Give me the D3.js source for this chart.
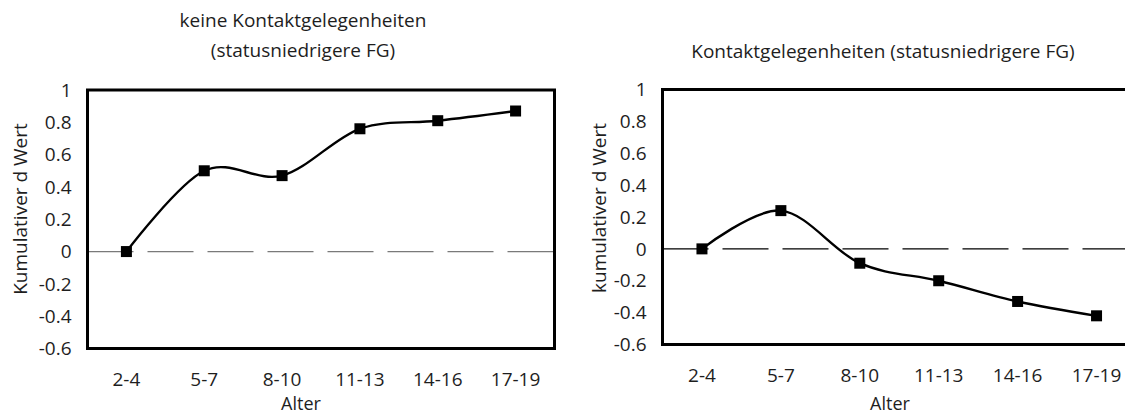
<!DOCTYPE html>
<html>
<head>
<meta charset="utf-8">
<script src="https://cdn.jsdelivr.net/npm/d3@7"></script>
<style>
  html, body { margin: 0; padding: 0; background: #fff; }
  svg { display: block; }
  text { font-family: "Open Sans", sans-serif; fill: #1e1e1e; }
</style>
</head>
<body>
<svg id="chart" width="1125" height="414"></svg>
<script>
// ---- data ----
const categories = ["2-4", "5-7", "8-10", "11-13", "14-16", "17-19"];
const leftValues = [0, 0.50, 0.47, 0.76, 0.81, 0.87];
const rightValues = [0, 0.24, -0.09, -0.20, -0.33, -0.42];
const yTicks = [1, 0.8, 0.6, 0.4, 0.2, 0, -0.2, -0.4, -0.6];
const leftTitle = ["keine Kontaktgelegenheiten", "(statusniedrigere FG)"];
const rightTitle = ["Kontaktgelegenheiten (statusniedrigere FG)"];
const leftYLabel = "Kumulativer d Wert";
const rightYLabel = "kumulativer d Wert";
const xLabel = "Alter";

const svg = d3.select("#chart");
const FS = 19;

function panel(o) {
  const g = svg.append("g");
  const x = d3.scaleBand().domain(categories).range([o.x0, o.x1]).padding(0);
  const y = d3.scaleLinear().domain([-0.6, 1]).range([o.y1, o.y0]);

  // title
  o.title.forEach((t, i) => {
    g.append("text").attr("x", o.titleX).attr("y", o.titleY + i * 30)
      .attr("text-anchor", "middle").style("font-size", FS + "px").text(t);
  });

  // zero line (dashed)
  g.append("line")
    .attr("x1", o.x0).attr("x2", o.x1)
    .attr("y1", y(0)).attr("y2", y(0))
    .attr("stroke", o.zeroColor).attr("stroke-width", 1.2)
    .attr("stroke-dasharray", "46,14");

  // y tick labels
  g.selectAll(".yt").data(yTicks).enter().append("text")
    .attr("x", o.x0 - 16).attr("y", d => y(d))
    .attr("dy", "0.35em").attr("text-anchor", "end")
    .style("font-size", FS + "px")
    .text(d => String(+d.toFixed(1)));

  // x tick labels
  g.selectAll(".xt").data(categories).enter().append("text")
    .attr("x", d => x(d) + x.bandwidth() / 2).attr("y", o.y1 + 37.5)
    .attr("text-anchor", "middle").style("font-size", FS + "px")
    .text(d => d);

  // axis titles
  g.append("text").attr("x", o.xLabelX).attr("y", 409.5)
    .attr("text-anchor", "middle").style("font-size", "18px").text(xLabel);
  g.append("text")
    .attr("transform", `translate(${o.yLabelX},${o.yLabelY}) rotate(-90)`)
    .attr("dy", "0.35em").attr("text-anchor", "middle")
    .style("font-size", FS + "px").text(o.yLabel);

  // line
  const pts = categories.map((c, i) => [x(c) + x.bandwidth() / 2, y(o.values[i])]);
  g.append("path")
    .attr("d", d3.line().curve(d3.curveCardinal.tension(0))(pts))
    .attr("fill", "none").attr("stroke", "#000").attr("stroke-width", 2.4);

  // markers
  const s = 11;
  g.selectAll(".m").data(categories).enter().append("rect")
    .attr("x", d => x(d) + x.bandwidth() / 2 - s / 2)
    .attr("y", (d, i) => y(o.values[i]) - s / 2)
    .attr("width", s).attr("height", s).attr("fill", "#000");

  // frame
  g.append("rect")
    .attr("x", o.x0).attr("y", o.y0)
    .attr("width", o.x1 - o.x0).attr("height", o.y1 - o.y0)
    .attr("fill", "none").attr("stroke", "#000").attr("stroke-width", 3);
}

panel({
  x0: 87.5, x1: 554.5, y0: 90, y1: 348.5,
  values: leftValues, title: leftTitle, titleX: 303, titleY: 26.5,
  yLabel: leftYLabel, yLabelX: 20.5, yLabelY: 209, xLabelX: 301,
  zeroColor: "#7a7a7a"
});

panel({
  x0: 662.5, x1: 1136, y0: 89.5, y1: 344.5,
  values: rightValues, title: rightTitle, titleX: 883, titleY: 58,
  yLabel: rightYLabel, yLabelX: 599.5, yLabelY: 208, xLabelX: 890,
  zeroColor: "#000"
});
</script>
</body>
</html>
